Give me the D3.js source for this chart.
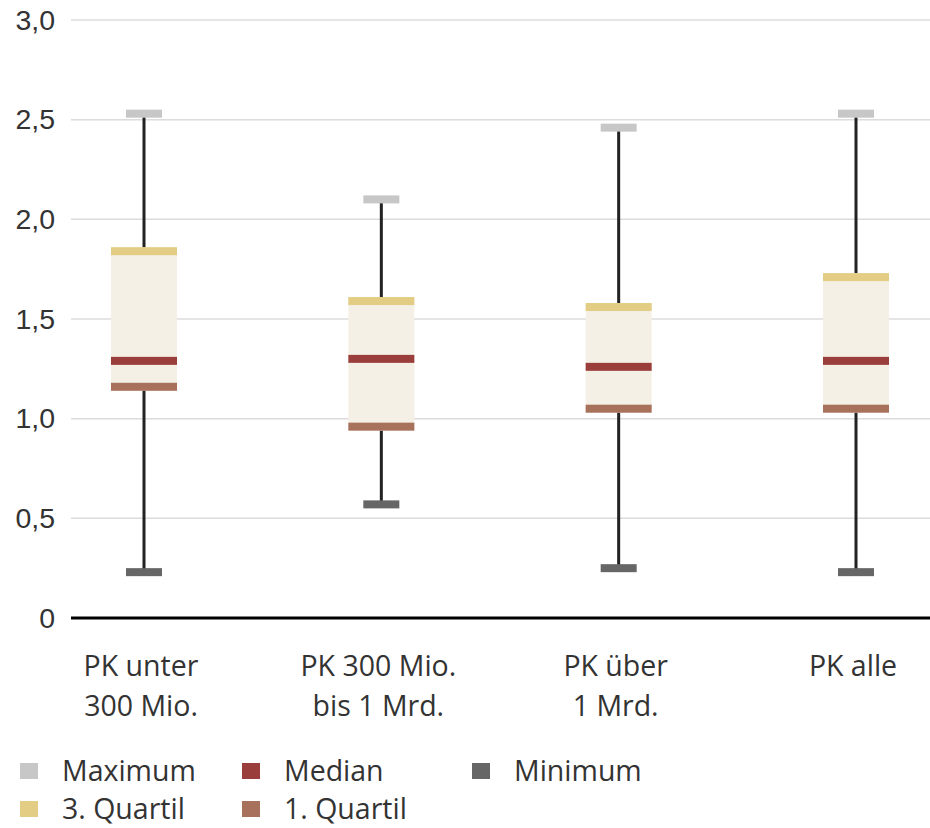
<!DOCTYPE html>
<html>
<head>
<meta charset="utf-8">
<script src="https://cdn.jsdelivr.net/npm/d3@7"></script>
<style>
  body { margin: 0; background: #fff; }
  svg { font-family: 'Open Sans', sans-serif; }
  .grid line { stroke: #dcdcdc; stroke-width: 1.5; }
  .axis text { fill: #333; font-size: 28.5px; }
  .legend text { fill: #333; font-size: 28.5px; }
</style>
</head>
<body>
<svg width="930" height="828"></svg>
<script>
const categories = [['PK unter', '300 Mio.'], ['PK 300 Mio.', 'bis 1 Mrd.'], ['PK über', '1 Mrd.'], ['PK alle']];
const maxima = [2.53, 2.10, 2.46, 2.53];
const quartil3 = [1.84, 1.59, 1.56, 1.71];
const medians = [1.29, 1.30, 1.26, 1.29];
const quartil1 = [1.16, 0.96, 1.05, 1.05];
const minima = [0.23, 0.57, 0.25, 0.23];
const yTicks = [0, 0.5, 1, 1.5, 2, 2.5, 3];

const legendItems = [
  { label: 'Maximum', color: '#c7c7c7' },
  { label: 'Median', color: '#9a3e3b' },
  { label: 'Minimum', color: '#666666' },
  { label: '3. Quartil', color: '#e3cc83' },
  { label: '1. Quartil', color: '#a8715b' }
];

const MARGIN = { left: 71, right: 0, top: 20, bottom: 210 };
const WIDTH = 930 - MARGIN.left - MARGIN.right;
const HEIGHT = 828 - MARGIN.top - MARGIN.bottom;
const BOX_W = 66, CAP_W = 36, BAND_H = 8;

const svg = d3.select('svg');
const g = svg.append('g').attr('transform', `translate(${MARGIN.left},${MARGIN.top})`);

const y = d3.scaleLinear().domain([0, 3]).range([HEIGHT, 0]);
const x = d3.scalePoint().domain(d3.range(categories.length)).range([144 - MARGIN.left, 856 - MARGIN.left]);

const fmt = v => (v === 0 ? '0' : d3.format('.1f')(v).replace('.', ','));

// grid
g.append('g').attr('class', 'grid')
  .selectAll('line').data(yTicks.filter(v => v > 0)).join('line')
  .attr('x1', 0).attr('x2', WIDTH)
  .attr('y1', d => y(d)).attr('y2', d => y(d));

const yAxis = g.append('g').attr('class', 'axis')
  .call(d3.axisLeft(y).tickValues(yTicks).tickFormat(fmt).tickSize(0).tickPadding(16));
yAxis.select('.domain').remove();

// boxes
const boxes = categories.map((c, i) => ({
  i, max: maxima[i], q3: quartil3[i], med: medians[i], q1: quartil1[i], min: minima[i]
}));

const box = g.selectAll('.box').data(boxes).join('g').attr('class', 'box');

box.append('line')
  .attr('x1', d => x(d.i)).attr('x2', d => x(d.i))
  .attr('y1', d => y(d.max)).attr('y2', d => y(d.min))
  .attr('stroke', '#222').attr('stroke-width', 3);

box.append('rect')
  .attr('x', d => x(d.i) - BOX_W / 2).attr('width', BOX_W)
  .attr('y', d => y(d.q3) - BAND_H / 2)
  .attr('height', d => y(d.q1) - y(d.q3) + BAND_H)
  .attr('fill', '#f4f0e6');

const band = (key, color, w) => box.append('rect')
  .attr('x', d => x(d.i) - w / 2).attr('width', w)
  .attr('y', d => y(d[key]) - BAND_H / 2).attr('height', BAND_H)
  .attr('fill', color);

band('max', '#c7c7c7', CAP_W);
band('q3', '#e3cc83', BOX_W);
band('med', '#9a3e3b', BOX_W);
band('q1', '#a8715b', BOX_W);
band('min', '#666666', CAP_W);

// zero line
g.append('line')
  .attr('x1', 0).attr('x2', WIDTH)
  .attr('y1', y(0)).attr('y2', y(0))
  .attr('stroke', '#000').attr('stroke-width', 3);

// x labels
const xl = g.append('g').attr('class', 'axis')
  .selectAll('text').data(categories).join('text')
  .attr('x', (d, i) => x(i) - 3)
  .attr('y', HEIGHT + 58)
  .attr('text-anchor', 'middle');
xl.selectAll('tspan').data(d => d).join('tspan')
  .attr('x', function() { return this.parentNode.getAttribute('x'); })
  .attr('dy', (d, j) => (j === 0 ? 0 : 40))
  .text(d => d);

// legend
const legendPos = [[20, 771], [242, 771], [472, 771], [20, 809], [242, 809]];
const lg = svg.append('g').attr('class', 'legend')
  .selectAll('g').data(legendItems).join('g')
  .attr('transform', (d, i) => `translate(${legendPos[i][0]},${legendPos[i][1]})`);
lg.append('rect').attr('x', 0).attr('y', -8).attr('width', 18).attr('height', 16).attr('fill', d => d.color);
lg.append('text').attr('x', 42).attr('y', 10).text(d => d.label);
</script>
</body>
</html>
